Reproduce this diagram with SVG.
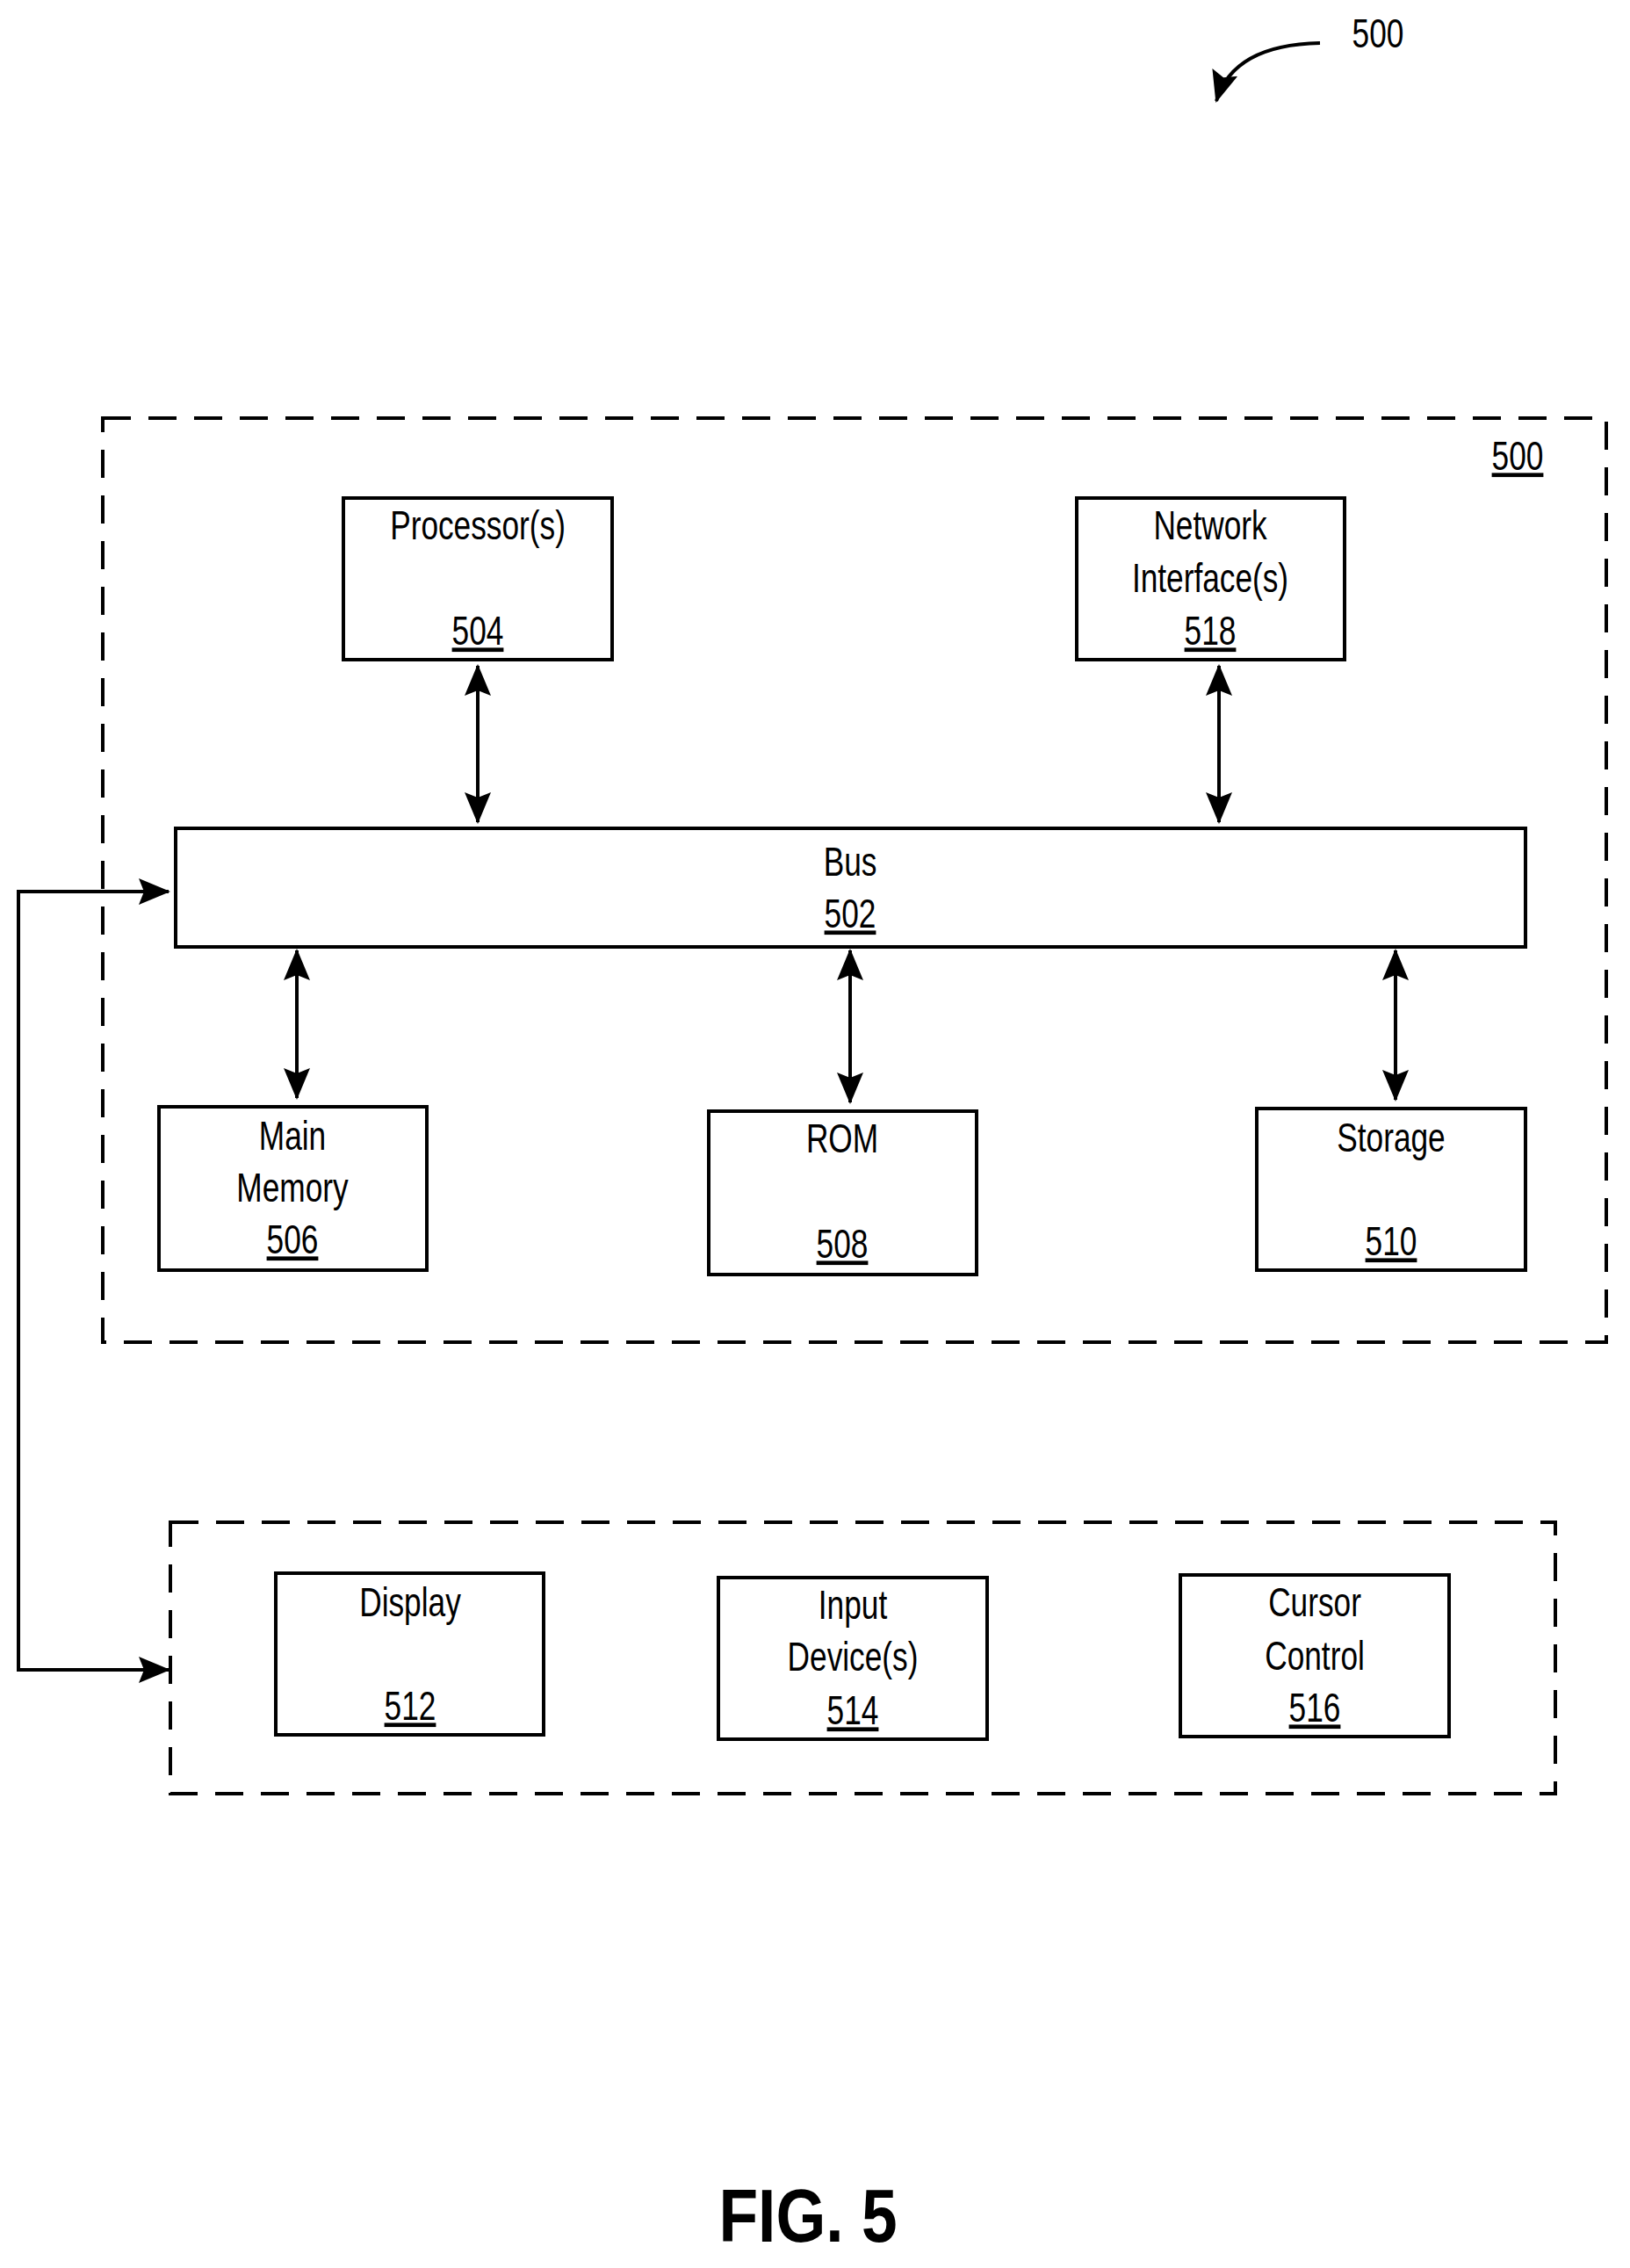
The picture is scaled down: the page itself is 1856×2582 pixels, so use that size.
<svg xmlns="http://www.w3.org/2000/svg" width="1856" height="2582" viewBox="0 0 1856 2582">
<style>
.b{fill:#fff;stroke:#000;stroke-width:4}
.d{fill:none;stroke:#000;stroke-width:4;stroke-dasharray:32,20}
.c{fill:none;stroke:#000;stroke-width:4}
text{font-family:"Liberation Sans",Arial,sans-serif;font-size:47px;text-anchor:middle;fill:#000}
.u{text-decoration:underline}
</style>
<defs>
<marker id="a" viewBox="0 0 10 10" refX="9" refY="5" markerWidth="8" markerHeight="8" markerUnits="userSpaceOnUse" orient="auto-start-reverse" style="overflow:visible">
<path d="M0,0 L10,5 L0,10 L2,5 Z" transform="scale(1)"/>
</marker>
<marker id="m" viewBox="0 0 36 30" refX="34" refY="15" markerWidth="36" markerHeight="30" markerUnits="userSpaceOnUse" orient="auto-start-reverse">
<path d="M0,0 L36,15 L0,30 L6,15 Z"/>
</marker>
</defs>
<g id="ref500">
<path class="c" d="M1503,49 C1450,50 1400,65 1385,115" marker-end="url(#m)"/>
<text transform="translate(1569,54) scale(0.75,1)">500</text>
</g>
<g id="system">
<rect class="d" x="117" y="476" width="1712" height="1052"/>
<text class="u" transform="translate(1728,535) scale(0.75,1)">500</text>
</g>
<g id="io">
<rect class="d" x="194" y="1733" width="1577" height="309"/>
</g>
<g id="n504"><rect class="b" x="391" y="567" width="306" height="184"/>
<text transform="translate(544,614) scale(0.75,1)">Processor(s)</text>
<text class="u" transform="translate(544,734) scale(0.75,1)">504</text></g>
<g id="n518"><rect class="b" x="1226" y="567" width="305" height="184"/>
<text transform="translate(1378,614) scale(0.75,1)">Network</text>
<text transform="translate(1378,674) scale(0.75,1)">Interface(s)</text>
<text class="u" transform="translate(1378,734) scale(0.75,1)">518</text></g>
<g id="n502"><rect class="b" x="200" y="943" width="1537" height="135"/>
<text transform="translate(968,997) scale(0.75,1)">Bus</text>
<text class="u" transform="translate(968,1056) scale(0.75,1)">502</text></g>
<g id="n506"><rect class="b" x="181" y="1260" width="305" height="186"/>
<text transform="translate(333,1309) scale(0.75,1)">Main</text>
<text transform="translate(333,1368) scale(0.75,1)">Memory</text>
<text class="u" transform="translate(333,1427) scale(0.75,1)">506</text></g>
<g id="n508"><rect class="b" x="807" y="1265" width="305" height="186"/>
<text transform="translate(959,1312) scale(0.75,1)">ROM</text>
<text class="u" transform="translate(959,1432) scale(0.75,1)">508</text></g>
<g id="n510"><rect class="b" x="1431" y="1262" width="306" height="184"/>
<text transform="translate(1584,1311) scale(0.75,1)">Storage</text>
<text class="u" transform="translate(1584,1429) scale(0.75,1)">510</text></g>
<g id="n512"><rect class="b" x="314" y="1791" width="305" height="184"/>
<text transform="translate(467,1840) scale(0.75,1)">Display</text>
<text class="u" transform="translate(467,1958) scale(0.75,1)">512</text></g>
<g id="n514"><rect class="b" x="818" y="1796" width="306" height="184"/>
<text transform="translate(971,1843) scale(0.75,1)">Input</text>
<text transform="translate(971,1902) scale(0.75,1)">Device(s)</text>
<text class="u" transform="translate(971,1963) scale(0.75,1)">514</text></g>
<g id="n516"><rect class="b" x="1344" y="1793" width="306" height="184"/>
<text transform="translate(1497,1840) scale(0.75,1)">Cursor</text>
<text transform="translate(1497,1901) scale(0.75,1)">Control</text>
<text class="u" transform="translate(1497,1960) scale(0.75,1)">516</text></g>
<g id="connectors">
<line class="c" x1="544" y1="758" x2="544" y2="936" marker-start="url(#m)" marker-end="url(#m)"/>
<line class="c" x1="1388" y1="758" x2="1388" y2="936" marker-start="url(#m)" marker-end="url(#m)"/>
<line class="c" x1="338" y1="1082" x2="338" y2="1250" marker-start="url(#m)" marker-end="url(#m)"/>
<line class="c" x1="968" y1="1082" x2="968" y2="1255" marker-start="url(#m)" marker-end="url(#m)"/>
<line class="c" x1="1589" y1="1082" x2="1589" y2="1252" marker-start="url(#m)" marker-end="url(#m)"/>
<path class="c" d="M192,1015 L21,1015 L21,1901 L192,1901" marker-start="url(#m)" marker-end="url(#m)"/>
</g>
<text style="font-size:86px;font-weight:bold" transform="translate(920,2552) scale(0.85,1)">FIG. 5</text>
</svg>
